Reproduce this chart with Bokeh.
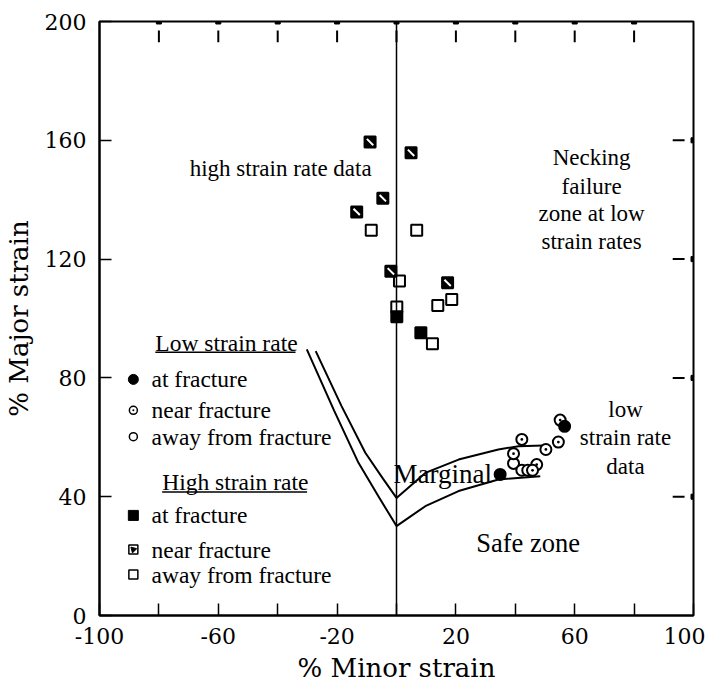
from bokeh.plotting import figure
from bokeh.models import FixedTicker, Span
from bokeh.core.properties import value
from bokeh.embed import file_html
from bokeh.resources import INLINE

# ---- data ----
# High strain rate
hs_at_x = [0.1, 8.2]
hs_at_y = [100.6, 95.2]
hs_near_x = [-8.9, 4.9, -4.6, -13.4, -1.9, 17.2]
hs_near_y = [159.4, 155.8, 140.5, 135.9, 115.9, 112.0]
hs_away_x = [-8.5, 6.8, 1.0, 18.6, 13.9, 0.1, 12.1]
hs_away_y = [129.7, 129.7, 112.6, 106.4, 104.4, 103.9, 91.5]

# Low strain rate
ls_at_x = [56.6, 34.9]
ls_at_y = [63.7, 47.5]
ls_near_x = [42.2, 55.1, 54.5, 50.3, 39.4, 47.2, 44.2, 45.8]
ls_near_y = [59.3, 65.8, 58.4, 55.9, 54.5, 50.8, 48.9, 48.9]
ls_away_x = [39.4, 42.2]
ls_away_y = [51.2, 48.9]

# forming limit boundaries
upper_x = [-27.2, -18.5, -10.5, -4.5, 0.0, 9.7, 20.9, 34.3, 41.1, 49.5]
upper_y = [89.0, 70.5, 54.8, 46.0, 39.6, 48.0, 52.5, 55.9, 57.0, 57.2]
lower_x = [-30.2, -21.0, -12.8, -6.0, 0.0, 9.7, 20.9, 34.3, 48.4]
lower_y = [89.6, 69.0, 51.4, 40.0, 30.1, 36.8, 41.9, 45.8, 46.9]

x_ticks = [-100, -60, -20, 20, 60, 100]
x_minor = [-80, -40, 0, 40, 80]
y_ticks = [0, 40, 80, 120, 160, 200]

SERIF = "Liberation Serif"
AXF = "DejaVu Serif"
FRAME = 594

p = figure(frame_width=FRAME, frame_height=FRAME, x_range=(-100, 100), y_range=(0, 200),
           output_backend="svg", toolbar_location=None,
           min_border_left=97, min_border_top=21, min_border_right=12, min_border_bottom=40)
p.background_fill_color = "white"
p.border_fill_color = "white"
p.grid.visible = False
p.outline_line_color = "black"
p.outline_line_width = 2

p.xaxis.ticker = FixedTicker(ticks=x_ticks, minor_ticks=x_minor)
p.yaxis.ticker = FixedTicker(ticks=y_ticks)
p.xaxis.major_label_overrides = {t: str(t) for t in x_ticks}

for ax in (p.xaxis[0], p.yaxis[0]):
    ax.major_tick_in = 12
    ax.major_tick_out = 0
    ax.minor_tick_in = 12
    ax.minor_tick_out = 0
    ax.major_tick_line_width = 1.5
    ax.minor_tick_line_width = 1.5
    ax.axis_line_width = 2
    ax.major_label_text_font = AXF
    ax.major_label_text_font_size = "22px"
    ax.major_label_text_color = "black"
    ax.axis_label_text_font = AXF
    ax.axis_label_text_font_size = "26px"
    ax.axis_label_text_font_style = "normal"
    ax.axis_label_text_color = "black"

p.xaxis.axis_label = "% Minor strain"
p.yaxis.axis_label = "% Major strain"
p.xaxis.major_label_standoff = 12
p.yaxis.major_label_standoff = 13
p.xaxis.axis_label_standoff = 6
p.yaxis.axis_label_standoff = 8

# inward ticks along the top and right edges of the frame
xs_top = [t for t in x_ticks + x_minor if -100 < t < 100]
ys_right = [t for t in y_ticks if 0 < t < 200]
n_top = len(xs_top)
n_right = len(ys_right)
p.scatter(xs_top, [200] * n_top, marker="square", size=5, fill_color="black",
          line_color="black")
p.scatter([100] * n_right, ys_right, marker="square", size=5, fill_color="black",
          line_color="black")
p.segment(x0=xs_top, y0=[197.0] * n_top, x1=xs_top, y1=[196.0 - 3.0] * n_top,
          line_color="black", line_width=2)
p.segment(x0=[97.0] * n_right, y0=ys_right, x1=[96.0 - 3.0] * n_right, y1=ys_right,
          line_color="black", line_width=2)

# vertical line at zero minor strain
p.add_layout(Span(location=0, dimension="height", line_color="black", line_width=1.5))

# boundaries
p.line(upper_x, upper_y, line_color="black", line_width=2)
p.line(lower_x, lower_y, line_color="black", line_width=2)

MS = 11
# high strain rate markers
p.scatter(hs_away_x, hs_away_y, marker="square", size=MS, fill_color="white",
          line_color="black", line_width=2)
p.scatter(hs_near_x, hs_near_y, marker="square", size=MS, fill_color="black",
          line_color="black", line_width=2)
p.scatter(hs_near_x, hs_near_y, marker="dash", size=MS - 2, angle=-0.785,
          line_color="white", line_width=2)
p.scatter(hs_at_x, hs_at_y, marker="square", size=MS, fill_color="black",
          line_color="black", line_width=2)

# low strain rate markers
p.scatter(ls_away_x, ls_away_y, marker="circle", size=MS, fill_color="white",
          line_color="black", line_width=2)
p.scatter(ls_near_x, ls_near_y, marker="circle_dot", size=MS, fill_color="white",
          line_color="black", line_width=2)
p.scatter(ls_at_x, ls_at_y, marker="circle", size=MS, fill_color="black",
          line_color="black", line_width=2)

# ---- legend (drawn inside the plot) ----
LX = -88.6
TX = -82.5
p.scatter([LX], [79.5], marker="circle", size=10, fill_color="black", line_color="black")
p.scatter([LX], [69.1], marker="circle_dot", size=8, fill_color="white", line_color="black", line_width=1.5)
p.scatter([LX], [60.2], marker="circle", size=8, fill_color="white", line_color="black", line_width=1.5)
p.scatter([LX], [33.7], marker="square", size=10, fill_color="black", line_color="black")
p.scatter([LX], [22.2], marker="square", size=9, fill_color="white", line_color="black", line_width=1.5)
p.scatter([LX], [22.2], marker="triangle", size=6, angle=0.785, fill_color="black", line_color="black")
p.scatter([LX], [13.8], marker="square", size=9, fill_color="white", line_color="black", line_width=1.5)

FS = "23.5px"
p.text([TX] * 6, [79.5, 69.1, 60.2, 33.7, 22.2, 13.8],
       text=["at fracture", "near fracture", "away from fracture",
             "at fracture", "near fracture", "away from fracture"],
       text_font=value(SERIF), text_font_size=FS, text_baseline="middle", text_align="left",
       text_color="black")
p.text([-81.2, -78.9], [91.8, 44.8], text=["Low strain rate", "High strain rate"],
       text_font=value(SERIF), text_font_size=FS, text_baseline="middle", text_align="left",
       text_color="black")
p.segment(x0=[-81.2, -78.9], y0=[88.6, 41.6], x1=[-34.0, -30.1], y1=[88.6, 41.6],
          line_color="black", line_width=1.5)

# ---- annotations ----
p.text([-39.0], [150.5], text=["high strain rate data"], text_font=value(SERIF),
       text_font_size="23px", text_baseline="middle", text_align="center",
       text_color="black")
p.text([65.7] * 4, [154.2, 144.6, 135.2, 125.9],
       text=["Necking", "failure", "zone at low", "strain rates"],
       text_font=value(SERIF), text_font_size="23px", text_baseline="middle", text_align="center",
       text_color="black")
p.text([77.1] * 3, [69.4, 59.8, 50.2], text=["low", "strain rate", "data"],
       text_font=value(SERIF), text_font_size="23px", text_baseline="middle", text_align="center",
       text_color="black")
p.text([-1.0], [47.5], text=["Marginal"], text_font=value(SERIF), text_font_size="27px",
       text_baseline="middle", text_align="left", text_color="black")
p.text([44.3], [24.5], text=["Safe zone"], text_font=value(SERIF), text_font_size="26.5px",
       text_baseline="middle", text_align="center", text_color="black")

open("out.html", "w").write(file_html(p, INLINE))
